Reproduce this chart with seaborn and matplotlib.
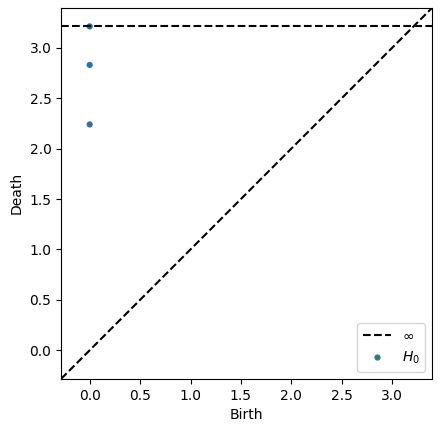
import numpy as np
import pandas as pd
import matplotlib
matplotlib.use("Agg")
import matplotlib.pyplot as plt
import seaborn as sns
from matplotlib.lines import Line2D

# H0 persistence pairs (birth, death); inf death drawn at the "infinity" line
births = [0.0, 0.0, 0.0]
deaths = [2.24, 2.83, np.inf]
point_colors = ["#3b6e96", "#1f77b4", "#2d6f8a"]
legend_color = "#2e7f80"

finite = np.array([d for d in deaths if np.isfinite(d)] + births)
ax_min, ax_max = finite.min(), finite.max()
buffer = (ax_max - ax_min) / 5
x_down = ax_min - buffer / 2
x_up = ax_max + buffer
b_inf = x_down + (x_up - x_down) * 0.95

df = pd.DataFrame({
    "Birth": births,
    "Death": [d if np.isfinite(d) else b_inf for d in deaths],
    "idx": [str(i) for i in range(len(births))],
})

fig = plt.figure(figsize=(4.4, 4.32), dpi=100)
ax = fig.add_axes([0.139, 0.123, 0.843, 0.859])

ax.plot([x_down, x_up], [x_down, x_up], "--", c="k")
ax.plot([x_down, x_up], [b_inf, b_inf], "--", c="k")
sns.scatterplot(data=df, x="Birth", y="Death", hue="idx", palette=point_colors,
                s=20, edgecolor="none", legend=False, ax=ax)

ax.set_xlim(x_down, x_up)
ax.set_ylim(x_down, x_up)
ax.set_xlabel("Birth")
ax.set_ylabel("Death")
ax.set_aspect("equal", "box")

handles = [
    Line2D([], [], ls="--", c="k", label=r"$\infty$"),
    Line2D([], [], ls="none", marker="o", markersize=4.5, markeredgecolor="none",
           markerfacecolor=legend_color, label=r"$H_0$"),
]
ax.legend(handles=handles, loc="lower right")

fig.savefig("out.png", dpi=100)
